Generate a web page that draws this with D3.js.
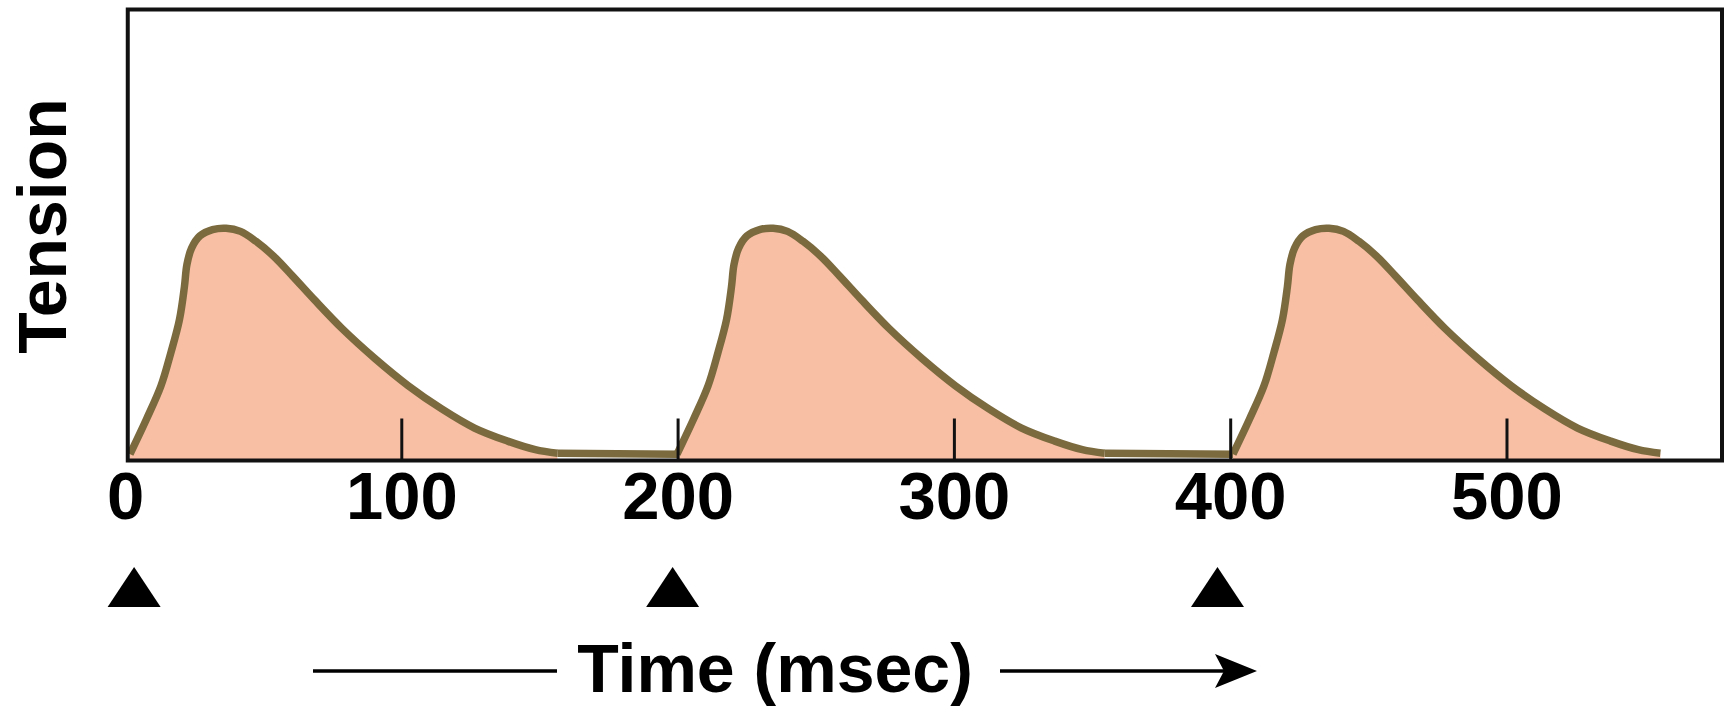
<!DOCTYPE html>
<html>
<head>
<meta charset="utf-8">
<script src="https://cdn.jsdelivr.net/npm/d3@7"></script>
<style>
  html, body { margin: 0; padding: 0; background: #ffffff; }
  svg { display: block; }
  text { font-family: "Liberation Sans", Arial, Helvetica, sans-serif; font-weight: bold; fill: #000; }
</style>
</head>
<body>
<script>
// Time axis ticks (msec) and their labels
const tickValues = [0, 100, 200, 300, 400, 500];
const tickLabels = ["0", "100", "200", "300", "400", "500"];

// Stimulus times (msec), marked with triangles under the axis
const stimulusTimes = [3.3, 198.2, 395.4];

// Onset of each twitch (msec)
const twitchOnsets = [1.8, 199.8, 401];

// Single-twitch profile: time after onset (msec) and tension (arbitrary units, 0-100)
const twitchTime    = [0, 6.0, 11.2, 14.8, 17.9, 19.7, 20.6, 22.3, 25.3, 29.9, 34.8, 40.0, 45.6, 52.0, 58.7, 66.8, 76.7, 88.7, 100.7, 112.7, 124.7, 136.7, 146.7, 154.7];
const twitchTension = [1.4, 9.2, 16.5, 23.9, 31.2, 38.5, 43.4, 47.1, 49.8, 51.2, 51.5, 50.8, 48.6, 45.3, 41.0, 35.6, 29.3, 22.6, 16.6, 11.5, 7.2, 4.3, 2.4, 1.6];

// Resting tension between twitches
const restTension = 1.4;

const yLabel = "Tension";
const xLabel = "Time (msec)";

const W = 1729, H = 708;

const x = d3.scaleLinear().domain([0, 578]).range([125, 1722]);
const y = d3.scaleLinear().domain([0, 100]).range([460.5, 9.5]);

// Plot frame spans the visible time window and the full tension range
const frame = { left: x(1), right: x(578), top: y(100), bottom: y(0) };

const svg = d3.select("body").append("svg")
  .attr("width", W).attr("height", H);

// Build each twitch from the shared profile
const twitches = twitchOnsets.map(t0 =>
  twitchTime.map((dt, i) => ({ t: t0 + dt, v: twitchTension[i] })));

// Flat resting segments between the end of one twitch and the next onset
const restSegments = twitches.slice(0, -1).map((tw, i) => {
  const end = tw[tw.length - 1];
  return [end, { t: twitchOnsets[i + 1], v: restTension }];
});

const smooth = d3.curveCatmullRom.alpha(0.5);
const line = d3.line().x(d => x(d.t)).y(d => y(d.v)).curve(smooth);
const area = d3.area().x(d => x(d.t)).y0(y(0)).y1(d => y(d.v)).curve(smooth);
const straight = d3.line().x(d => x(d.t)).y(d => y(d.v));

const fillColor = "#f9bfa5";
const strokeColor = "#7b6a3e";
const traceWidth = 7.5;

const plot = svg.append("g");

plot.selectAll("path.fill").data(twitches).join("path")
  .attr("class", "fill")
  .attr("d", area)
  .attr("fill", fillColor);

// Inward tick marks with labels below the frame
const xAxis = d3.axisBottom(x)
  .tickValues(tickValues)
  .tickFormat((d, i) => tickLabels[i])
  .tickSize(-42)
  .tickSizeOuter(0)
  .tickPadding(11);

const axisG = svg.append("g")
  .attr("transform", `translate(0,${frame.bottom})`)
  .call(xAxis);
axisG.select(".domain").remove();
axisG.selectAll(".tick line")
  .attr("stroke", "#111").attr("stroke-width", 3)
  .attr("display", d => d === 0 ? "none" : null);  // the frame edge stands in for the zero tick
axisG.selectAll(".tick text")
  .attr("font-size", 67)
  .attr("font-family", "'Liberation Sans', Arial, Helvetica, sans-serif")
  .attr("font-weight", "bold")
  .attr("fill", "#000");

plot.selectAll("path.rest").data(restSegments).join("path")
  .attr("class", "rest")
  .attr("d", straight)
  .attr("fill", "none")
  .attr("stroke", strokeColor)
  .attr("stroke-width", traceWidth)
  .attr("stroke-linejoin", "round");

plot.selectAll("path.trace").data(twitches).join("path")
  .attr("class", "trace")
  .attr("d", line)
  .attr("fill", "none")
  .attr("stroke", strokeColor)
  .attr("stroke-width", traceWidth)
  .attr("stroke-linejoin", "round");

// Plot frame
svg.append("rect")
  .attr("x", frame.left).attr("y", frame.top)
  .attr("width", frame.right - frame.left)
  .attr("height", frame.bottom - frame.top)
  .attr("fill", "none")
  .attr("stroke", "#111")
  .attr("stroke-width", 4);

// Stimulus markers
const triW = 53, triH = 40, triTop = 567;
svg.selectAll("path.stim").data(stimulusTimes).join("path")
  .attr("class", "stim")
  .attr("d", d => {
    const cx = x(d);
    return `M${cx},${triTop}L${cx + triW / 2},${triTop + triH}L${cx - triW / 2},${triTop + triH}Z`;
  })
  .attr("fill", "#000");

// Y axis title
svg.append("text")
  .attr("transform", `translate(66,226) rotate(-90)`)
  .attr("text-anchor", "middle")
  .attr("font-size", 68)
  .text(yLabel);

// X axis title with lead line and arrow
const titleY = 692;
const arrowY = 671;
svg.append("text")
  .attr("x", 775).attr("y", titleY)
  .attr("text-anchor", "middle")
  .attr("font-size", 68)
  .text(xLabel);

svg.append("line")
  .attr("x1", 313).attr("x2", 557)
  .attr("y1", arrowY).attr("y2", arrowY)
  .attr("stroke", "#000").attr("stroke-width", 3.5);

svg.append("line")
  .attr("x1", 1000).attr("x2", 1230)
  .attr("y1", arrowY).attr("y2", arrowY)
  .attr("stroke", "#000").attr("stroke-width", 3.5);

svg.append("path")
  .attr("d", `M1257,${arrowY}L1215,${arrowY - 17}L1224,${arrowY}L1215,${arrowY + 17}Z`)
  .attr("fill", "#000");
</script>
</body>
</html>
